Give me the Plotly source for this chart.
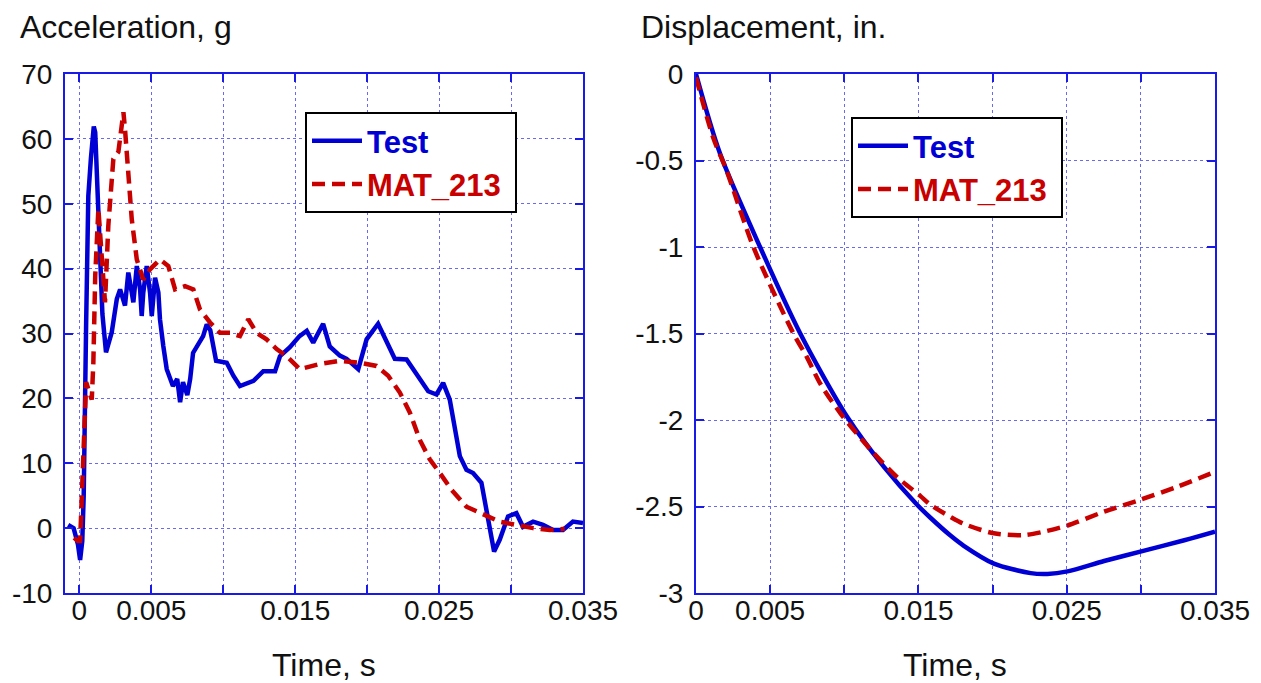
import plotly.graph_objects as go

# ---------------- data ----------------
# Acceleration (g) vs time (s)
acc_test_t = [-0.00078, -0.0004, -0.0001, 0.00005, 0.0002, 0.0003, 0.00047, 0.00062, 0.0008, 0.001, 0.0011, 0.0012,
              0.00128, 0.00144, 0.0016, 0.00185, 0.002, 0.00225, 0.0026, 0.00283, 0.00317, 0.0034, 0.00364,
              0.00375, 0.00399, 0.00422, 0.00433, 0.00444, 0.00468, 0.00491, 0.00503, 0.00526, 0.00549,
              0.0056, 0.00583, 0.00607, 0.0065, 0.0068, 0.007, 0.0072, 0.0075, 0.0077, 0.0079, 0.0086,
              0.00885, 0.0091, 0.0095, 0.01024, 0.0107, 0.01116, 0.0121, 0.01278, 0.0136, 0.01394, 0.01463,
              0.0153, 0.0158, 0.01625, 0.01694, 0.0174, 0.0181, 0.01857, 0.01938, 0.01996, 0.02076, 0.02135,
              0.02192, 0.02274, 0.02354, 0.02424, 0.02482, 0.02528, 0.02574, 0.02609, 0.02644, 0.0269,
              0.02736, 0.02794, 0.02829, 0.02852, 0.02882, 0.02921, 0.02979, 0.03037, 0.03083, 0.03153,
              0.03222, 0.03292, 0.03361, 0.0343, 0.035]
acc_test_v = [0.5, 0.0, -2.5, -4.9, -2.0, 5.0, 31.7, 51.2, 57.0, 61.9, 61.0, 56.0,
              50.0, 42.0, 33.0, 27.1, 28.5, 30.2, 35.3, 36.8, 34.3, 39.4, 36.3,
              34.8, 40.4, 36.8, 32.7, 36.3, 40.4, 36.3, 32.7, 38.6, 36.3,
              32.2, 28.1, 24.5, 21.9, 23.0, 19.4, 22.5, 20.5, 23.0, 27.0, 29.6,
              31.4, 30.5, 25.8, 25.5, 23.5, 21.9, 22.7, 24.2, 24.2, 26.5, 27.9,
              29.6, 30.4, 28.6, 31.5, 28.0, 26.6, 26.1, 24.5, 29.1, 31.5, 28.6,
              26.1, 26.0, 23.5, 21.1, 20.6, 22.4, 19.8, 15.2, 11.1, 9.0,
              8.5, 7.0, 2.8, -0.8, -3.6, -1.8, 1.8, 2.3, 0.2, 1.0,
              0.5, -0.3, -0.3, 1.0, 0.8]

acc_mat_t = [-0.00037, -0.0001, 0.00005, 0.00028, 0.00047, 0.00086, 0.00097, 0.0011, 0.00132, 0.00155,
             0.00178, 0.00201, 0.00236, 0.00271, 0.00306, 0.00317, 0.0034, 0.00364, 0.00399, 0.00444,
             0.00491, 0.0056, 0.00618, 0.00665, 0.00734, 0.00792, 0.00838, 0.00908, 0.00977, 0.01047,
             0.01116, 0.01174, 0.01232, 0.01301, 0.01371, 0.0144, 0.01533, 0.01671, 0.0181, 0.0195,
             0.02065, 0.02146, 0.02227, 0.02297, 0.02366, 0.02435, 0.02505, 0.02586, 0.0269, 0.02806,
             0.02921, 0.03037, 0.03153, 0.03269, 0.03373]
acc_mat_v = [-1.5, -2.0, -2.0, 10.0, 22.5, 19.8, 25.5, 38.9, 49.2, 42.0,
             34.8, 46.6, 56.9, 58.0, 64.1, 61.5, 54.9, 47.6, 41.4, 38.3,
             39.9, 41.4, 40.4, 36.8, 37.3, 36.8, 33.7, 31.7, 30.1, 30.1,
             29.6, 32.2, 30.1, 29.1, 27.6, 26.5, 24.5, 25.3, 25.8, 25.5,
             25.0, 23.5, 20.9, 17.8, 13.6, 10.6, 8.5, 5.9, 3.3, 2.1,
             1.0, 0.5, 0.0, -0.3, -0.1]

# Displacement (in.) vs time (s)
disp_test_t = [0.0, 0.00162, 0.00432, 0.00703, 0.01018, 0.01266, 0.01491, 0.01581, 0.01716, 0.01806,
               0.02009, 0.02257, 0.0237, 0.02505, 0.02752, 0.03023, 0.03293, 0.035]
disp_test_v = [0.0, -0.46, -1.0, -1.5, -1.98, -2.27, -2.49, -2.565, -2.668, -2.727,
               -2.83, -2.885, -2.89, -2.875, -2.815, -2.755, -2.695, -2.645]

disp_mat_t = [0.0, 0.00117, 0.00207, 0.00387, 0.00657, 0.00747, 0.00838, 0.00973, 0.01176, 0.01356,
              0.01514, 0.01581, 0.01716, 0.01806, 0.02009, 0.02212, 0.02347, 0.02505, 0.02752, 0.03,
              0.03248, 0.0347]
disp_mat_v = [-0.02, -0.37, -0.56, -1.0, -1.5, -1.635, -1.79, -1.96, -2.17, -2.33,
              -2.44, -2.49, -2.56, -2.60, -2.655, -2.665, -2.645, -2.61, -2.53, -2.46,
              -2.385, -2.31]

x_tickvals = [0, 0.005, 0.01, 0.015, 0.02, 0.025, 0.03, 0.035]
x_ticktext = ["0", "0.005", "", "0.015", "", "0.025", "", "0.035"]
acc_tickvals = [-10, 0, 10, 20, 30, 40, 50, 60, 70]
acc_ticktext = ["-10", "0", "10", "20", "30", "40", "50", "60", "70"]
disp_tickvals = [-3, -2.5, -2, -1.5, -1, -0.5, 0]
disp_ticktext = ["-3", "-2.5", "-2", "-1.5", "-1", "-0.5", "0"]

# ---------------- style ----------------
W, H = 1261, 683
BLUE = "#0000d4"
RED = "#c80000"
AXC = "#1a1ae6"
GRID = "#6a6af0"
FONT = "Liberation Sans, Arial, Helvetica, sans-serif"


def px_x(p):
    return p / W


def px_y(p):
    return (H - p) / H


fig = go.Figure()

name_test = f"<span style='color:{BLUE}'><b>Test</b></span>"
name_mat = f"<span style='color:{RED}'><b>MAT_213</b></span>&nbsp;"

fig.add_trace(go.Scatter(x=acc_test_t, y=acc_test_v, mode="lines", name=name_test,
                         line=dict(color=BLUE, width=4.5), xaxis="x", yaxis="y", legend="legend"))
fig.add_trace(go.Scatter(x=acc_mat_t, y=acc_mat_v, mode="lines", name=name_mat,
                         line=dict(color=RED, width=4.5, dash="13px,7px"), xaxis="x", yaxis="y",
                         legend="legend"))
fig.add_trace(go.Scatter(x=disp_test_t, y=disp_test_v, mode="lines", name=name_test,
                         line=dict(color=BLUE, width=4.5, shape="spline", smoothing=0.8),
                         xaxis="x2", yaxis="y2", legend="legend2"))
fig.add_trace(go.Scatter(x=disp_mat_t, y=disp_mat_v, mode="lines", name=name_mat,
                         line=dict(color=RED, width=4.5, dash="13px,7px", shape="spline", smoothing=0.8),
                         xaxis="x2", yaxis="y2", legend="legend2"))

axis_common = dict(
    showline=True, linecolor=AXC, linewidth=2, mirror="ticks",
    ticks="inside", ticklen=8, tickwidth=2, tickcolor=AXC,
    showgrid=True, gridcolor=GRID, gridwidth=1, griddash="dot",
    zeroline=False, tickfont=dict(family=FONT, size=28, color="#111111"),
    tickmode="array", automargin=False,
)

ydom = [px_y(593), px_y(74)]

legend_common = dict(
    bgcolor="white", bordercolor="black", borderwidth=2,
    font=dict(family=FONT, size=31),
    xanchor="left", yanchor="top", tracegroupgap=0, itemwidth=50,
)

fig.update_layout(
    width=W, height=H,
    margin=dict(l=0, r=0, t=0, b=0, pad=0, autoexpand=False),
    paper_bgcolor="white", plot_bgcolor="white",
    showlegend=True,
    xaxis=dict(domain=[px_x(65), px_x(583)], range=[-0.001, 0.035], anchor="y",
               tickvals=x_tickvals, ticktext=x_ticktext, ticklabelstandoff=-9, **axis_common),
    yaxis=dict(domain=ydom, range=[-10, 70], anchor="x",
               tickvals=acc_tickvals, ticktext=acc_ticktext, ticklabelstandoff=5, **axis_common),
    xaxis2=dict(domain=[px_x(696), px_x(1215)], range=[0, 0.035], anchor="y2",
                tickvals=x_tickvals, ticktext=x_ticktext, ticklabelstandoff=-9, **axis_common),
    yaxis2=dict(domain=ydom, range=[-3, 0], anchor="x2",
                tickvals=disp_tickvals, ticktext=disp_ticktext, ticklabelstandoff=5, **axis_common),
    legend=dict(x=px_x(305), y=px_y(112), **legend_common),
    legend2=dict(x=px_x(851), y=px_y(117), **legend_common),
    annotations=[
        dict(text="Acceleration, g", x=px_x(18), y=px_y(27), xref="paper", yref="paper",
             xanchor="left", yanchor="middle", showarrow=False,
             font=dict(family=FONT, size=32, color="#111111")),
        dict(text="Displacement, in.", x=px_x(639), y=px_y(27), xref="paper", yref="paper",
             xanchor="left", yanchor="middle", showarrow=False,
             font=dict(family=FONT, size=32, color="#111111")),
        dict(text="Time, s", x=px_x(324), y=px_y(665), xref="paper", yref="paper",
             xanchor="center", yanchor="middle", showarrow=False,
             font=dict(family=FONT, size=32, color="#111111")),
        dict(text="Time, s", x=px_x(955), y=px_y(665), xref="paper", yref="paper",
             xanchor="center", yanchor="middle", showarrow=False,
             font=dict(family=FONT, size=32, color="#111111")),
    ],
)

fig.write_html("out.html")
